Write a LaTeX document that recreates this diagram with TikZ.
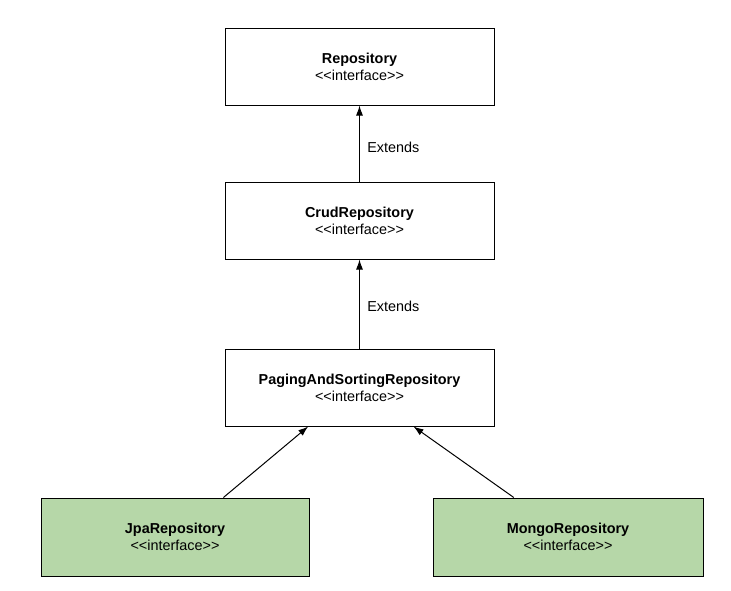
\documentclass[tikz,border=0pt]{standalone}
\usepackage{fontspec}
\setmainfont{Liberation Sans}
\usepackage{tikz}
\usetikzlibrary{arrows.meta,calc}
\definecolor{ifgreen}{HTML}{B6D7A8}
\tikzstyle{arrow} = [-{Latex[length=10pt,width=7pt]},line width=1pt]
\tikzstyle{iface} = [draw,line width=1pt,rectangle,align=center,minimum height=77pt,font=\fontsize{14.4}{17}\selectfont]
\tikzstyle{label} = [right=4pt,font=\fontsize{14.4}{17}\selectfont]

\begin{document}
\begin{tikzpicture}[x=1pt,y=-1pt]
          \useasboundingbox (0,0) rectangle (731,590);
          \node[iface,minimum width=269pt] (repo) at (359.5,66.5) {\textbf{Repository}\\<{}<interface>{}>};
          \node[iface,minimum width=269pt] (crud) at (359.5,220.5) {\textbf{CrudRepository}\\<{}<interface>{}>};
          \node[iface,minimum width=269pt] (paging) at (359.5,387.5) {\textbf{PagingAndSortingRepository}\\<{}<interface>{}>};
          \node[iface,fill=ifgreen,minimum width=268pt,minimum height=78pt] (jpa) at (175,537) {\textbf{JpaRepository}\\<{}<interface>{}>};
          \node[iface,fill=ifgreen,minimum width=270pt,minimum height=78pt] (mongo) at (568,537) {\textbf{MongoRepository}\\<{}<interface>{}>};

          \draw[arrow] (crud) -- node[label,pos=0.45] {Extends} (repo);
          \draw[arrow] (paging) -- node[label,pos=0.47] {Extends} (crud);
          \draw[arrow] ($(jpa.north west)!0.68!(jpa.north east)$) -- ($(paging.south west)!0.31!(paging.south east)$);
          \draw[arrow] ($(mongo.north west)!0.30!(mongo.north east)$) -- ($(paging.south west)!0.70!(paging.south east)$);
        \end{tikzpicture}
\end{document}
